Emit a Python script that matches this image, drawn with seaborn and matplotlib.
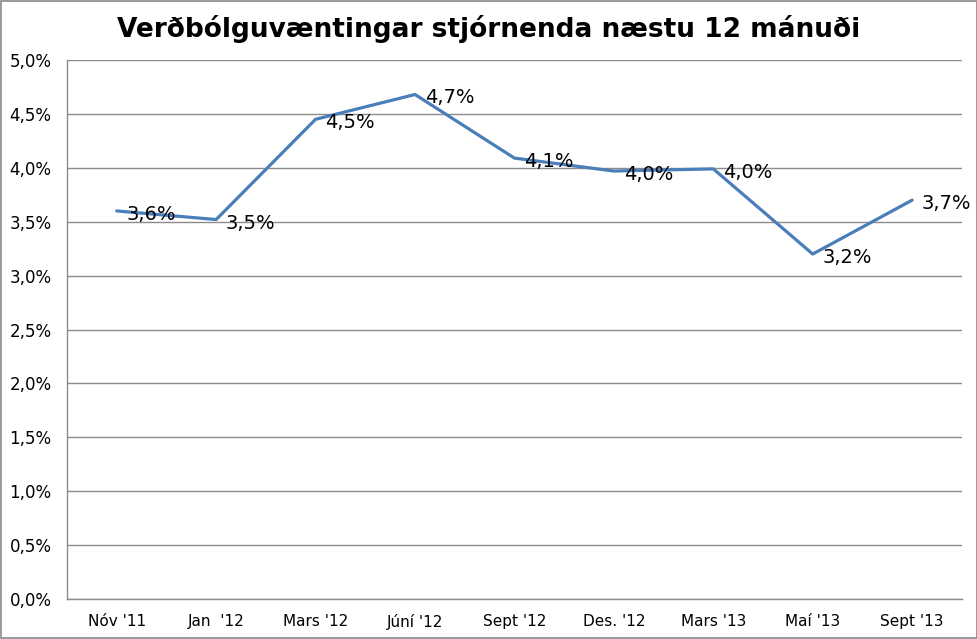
import matplotlib
matplotlib.use("Agg")
import matplotlib.pyplot as plt
import matplotlib.patches as mpatches
import pandas as pd
import seaborn as sns

# ── Data ─────────────────────────────────────────────────────────────────────
periods = ["Nóv '11", "Jan  '12", "Mars '12", "Júní '12", "Sept '12",
           "Des. '12", "Mars '13", "Maí '13", "Sept '13"]
expectations = [3.60, 3.52, 4.45, 4.68, 4.09, 3.97, 3.99, 3.20, 3.70]
point_labels = ["3,6%", "3,5%", "4,5%", "4,7%", "4,1%",
                "4,0%", "4,0%", "3,2%", "3,7%"]
y_ticks = [0.0, 0.5, 1.0, 1.5, 2.0, 2.5, 3.0, 3.5, 4.0, 4.5, 5.0]

df = pd.DataFrame({"pos": range(len(periods)), "value": expectations})

# ── Style ────────────────────────────────────────────────────────────────────
sns.set_theme(style="white")
plt.rcParams["font.family"] = ["DejaVu Sans"]
plt.rcParams["text.color"] = "black"

LINE_COLOR = "#4A7EBB"
GRID_COLOR = "#8C8C8C"

fig = plt.figure(figsize=(9.78, 6.39), dpi=100)
ax = fig.add_axes([0.0685, 0.0626, 0.915, 0.8435])

sns.lineplot(data=df, x="pos", y="value", ax=ax, color=LINE_COLOR,
             linewidth=2.3, legend=False)

for x, y, lab in zip(df["pos"], df["value"], point_labels):
    ax.annotate(lab, (x, y), xytext=(7, -2.5), textcoords="offset points",
                ha="left", va="center", fontsize=14, color="black")

ax.set_xlim(-0.5, len(periods) - 0.5)
ax.set_ylim(0, 5.0)
ax.set_yticks(y_ticks)
ax.set_yticklabels([f"{t:.1f}".replace(".", ",") + "%" for t in y_ticks])
ax.set_xticks(range(len(periods)))
ax.set_xticklabels(periods)
ax.tick_params(axis="y", length=0, pad=11, labelsize=12, colors="black")
ax.tick_params(axis="x", length=0, pad=11, labelsize=11, colors="black")
ax.set_xlabel("")
ax.set_ylabel("")

ax.grid(axis="y", color=GRID_COLOR, linewidth=1.0)
ax.set_axisbelow(True)
for side in ["top", "right"]:
    ax.spines[side].set_visible(False)
for side in ["left", "bottom"]:
    ax.spines[side].set_color(GRID_COLOR)
    ax.spines[side].set_linewidth(1.0)

fig.text(0.5, 0.955, "Verðbólguvæntingar stjórnenda næstu 12 mánuði",
         ha="center", va="center", fontsize=19, fontweight="bold",
         color="black")

# outer chart border
fig.patches.append(mpatches.Rectangle((0.001, 0.0015), 0.998, 0.997,
                                      transform=fig.transFigure, fill=False,
                                      edgecolor="#888888", linewidth=1.2))

fig.savefig("out.png", dpi=100)
